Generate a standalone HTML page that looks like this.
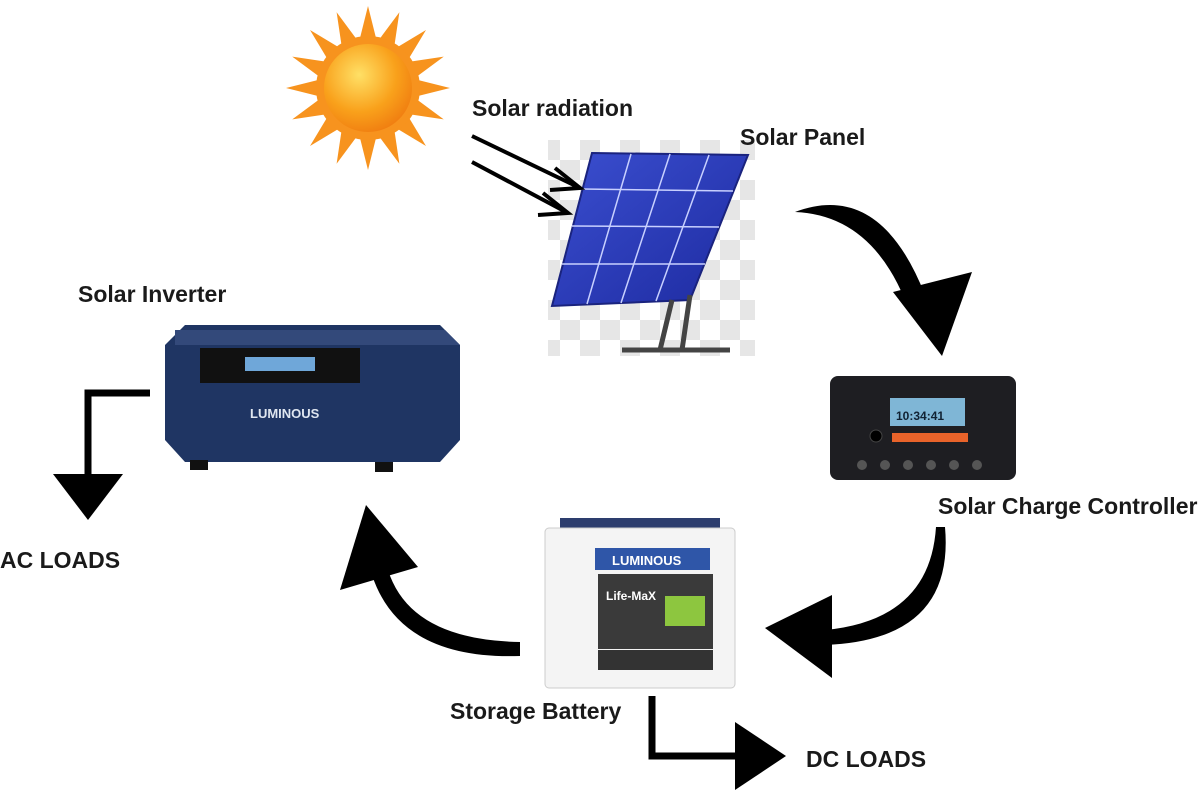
<!DOCTYPE html>
<html><head><meta charset="utf-8"><style>
html,body{margin:0;padding:0;background:#fff;}
svg{display:block}
text{font-family:"Liberation Sans",sans-serif;font-weight:bold;fill:#1a1a1a}
</style></head><body>
<svg width="1204" height="800" viewBox="0 0 1204 800" xmlns="http://www.w3.org/2000/svg">
<defs>
<radialGradient id="sun" cx="0.4" cy="0.35" r="0.7"><stop offset="0" stop-color="#ffe066"/><stop offset="0.6" stop-color="#f9a11b"/><stop offset="1" stop-color="#f07c10"/></radialGradient>
<linearGradient id="pan" x1="0" y1="0" x2="1" y2="1"><stop offset="0" stop-color="#3b4fd0"/><stop offset="1" stop-color="#1d2aa0"/></linearGradient>
<pattern id="chk" width="40" height="40" patternUnits="userSpaceOnUse"><rect width="40" height="40" fill="#fff"/><rect width="20" height="20" fill="#e6e6e6"/><rect x="20" y="20" width="20" height="20" fill="#e6e6e6"/></pattern>
</defs>
<!-- sun -->
<g transform="translate(368,88)">
<g fill="#f7931e">
<polygon points="-8,-50 0,-82 8,-50"/><polygon points="-8,-50 0,-82 8,-50" transform="rotate(22.5)"/><polygon points="-8,-50 0,-82 8,-50" transform="rotate(45)"/><polygon points="-8,-50 0,-82 8,-50" transform="rotate(67.5)"/><polygon points="-8,-50 0,-82 8,-50" transform="rotate(90)"/><polygon points="-8,-50 0,-82 8,-50" transform="rotate(112.5)"/><polygon points="-8,-50 0,-82 8,-50" transform="rotate(135)"/><polygon points="-8,-50 0,-82 8,-50" transform="rotate(157.5)"/><polygon points="-8,-50 0,-82 8,-50" transform="rotate(180)"/><polygon points="-8,-50 0,-82 8,-50" transform="rotate(202.5)"/><polygon points="-8,-50 0,-82 8,-50" transform="rotate(225)"/><polygon points="-8,-50 0,-82 8,-50" transform="rotate(247.5)"/><polygon points="-8,-50 0,-82 8,-50" transform="rotate(270)"/><polygon points="-8,-50 0,-82 8,-50" transform="rotate(292.5)"/><polygon points="-8,-50 0,-82 8,-50" transform="rotate(315)"/><polygon points="-8,-50 0,-82 8,-50" transform="rotate(337.5)"/>
</g>
<circle r="52" fill="#f7931e"/><circle r="44" fill="url(#sun)"/>
</g>
<text x="472" y="116" font-size="23">Solar radiation</text>
<!-- panel -->
<rect x="548" y="140" width="207" height="216" fill="url(#chk)"/>
<polygon points="592,153 748,155 690,300 552,306" fill="url(#pan)" stroke="#1a237e" stroke-width="2"/>
<g stroke="#c8d0ff" stroke-width="1.5">
<line x1="631" y1="154" x2="587" y2="304"/><line x1="670" y1="154" x2="621" y2="303"/><line x1="709" y1="155" x2="656" y2="301"/>
<line x1="582" y1="189" x2="733" y2="191"/><line x1="572" y1="226" x2="719" y2="227"/><line x1="562" y1="264" x2="705" y2="264"/>
</g>
<g stroke="#444" stroke-width="5"><line x1="672" y1="300" x2="660" y2="350"/><line x1="690" y1="295" x2="682" y2="350"/><line x1="622" y1="350" x2="730" y2="350"/></g>
<!-- radiation arrows -->
<g stroke="#000" stroke-width="4" fill="none">
<line x1="472" y1="136" x2="578" y2="187"/><polyline points="555,168 580,188 550,190"/>
<line x1="472" y1="162" x2="566" y2="212"/><polyline points="543,193 568,213 538,215"/>
</g>
<text x="740" y="145" font-size="23">Solar Panel</text>
<!-- curved arrow panel->controller -->
<path d="M795,212 Q880,180 925,295 L905,300 Q870,215 795,212 Z" fill="#000"/>
<polygon points="893,292 972,272 942,356" fill="#000"/>
<!-- controller -->
<rect x="830" y="376" width="186" height="104" rx="8" fill="#1e1e22"/>
<rect x="890" y="398" width="75" height="28" fill="#7fb6d6"/>
<text x="896" y="420" font-size="12" style="fill:#123">10:34:41</text>
<rect x="892" y="433" width="76" height="9" fill="#e8632a"/>
<g fill="#555"><circle cx="862" cy="465" r="5"/><circle cx="885" cy="465" r="5"/><circle cx="908" cy="465" r="5"/><circle cx="931" cy="465" r="5"/><circle cx="954" cy="465" r="5"/><circle cx="977" cy="465" r="5"/></g>
<circle cx="876" cy="436" r="6" fill="#000" stroke="#444"/>
<text x="938" y="514" font-size="23">Solar Charge Controller</text>
<!-- curved arrow controller->battery -->
<path d="M936,527 L945,527 Q955,640 825,645 L825,630 Q930,620 936,527 Z" fill="#000"/>
<polygon points="765,628 832,595 832,678" fill="#000"/>
<!-- battery -->
<rect x="560" y="518" width="160" height="14" fill="#2d3e6e"/>
<rect x="545" y="528" width="190" height="160" rx="4" fill="#f4f4f4" stroke="#ccc"/>
<rect x="595" y="548" width="115" height="22" fill="#2f56a8"/>
<text x="612" y="565" font-size="13" style="fill:#fff">LUMINOUS</text>
<rect x="598" y="574" width="115" height="75" fill="#3a3a3a"/>
<text x="606" y="600" font-size="12" style="fill:#fff">Life-MaX</text>
<rect x="665" y="596" width="40" height="30" fill="#8dc63f"/>
<rect x="598" y="650" width="115" height="20" fill="#333"/>
<text x="450" y="719" font-size="23">Storage Battery</text>
<!-- DC loads arrow -->
<polyline points="652,696 652,756 740,756" fill="none" stroke="#000" stroke-width="7"/>
<polygon points="735,722 786,756 735,790" fill="#000"/>
<text x="806" y="767" font-size="23">DC LOADS</text>
<!-- curved arrow battery->inverter -->
<path d="M520,642 L520,656 Q400,660 372,575 L388,570 Q410,640 520,642 Z" fill="#000"/>
<polygon points="340,590 366,505 418,567" fill="#000"/>
<!-- inverter -->
<polygon points="185,325 440,325 460,345 460,440 440,462 185,462 165,440 165,345" fill="#1f3563"/>
<polygon points="175,330 445,330 460,345 175,345" fill="#33497a"/>
<rect x="200" y="348" width="160" height="35" fill="#111"/>
<rect x="245" y="357" width="70" height="14" fill="#6fa7d9"/>
<text x="250" y="418" font-size="13" style="fill:#dfe6f0">LUMINOUS</text>
<rect x="190" y="460" width="18" height="10" fill="#111"/><rect x="375" y="462" width="18" height="10" fill="#111"/>
<text x="78" y="302" font-size="23">Solar Inverter</text>
<!-- AC loads arrow -->
<polyline points="150,393 88,393 88,480" fill="none" stroke="#000" stroke-width="7"/>
<polygon points="53,474 88,520 123,474" fill="#000"/>
<text x="0" y="568" font-size="23">AC LOADS</text>
</svg>
</body></html>
